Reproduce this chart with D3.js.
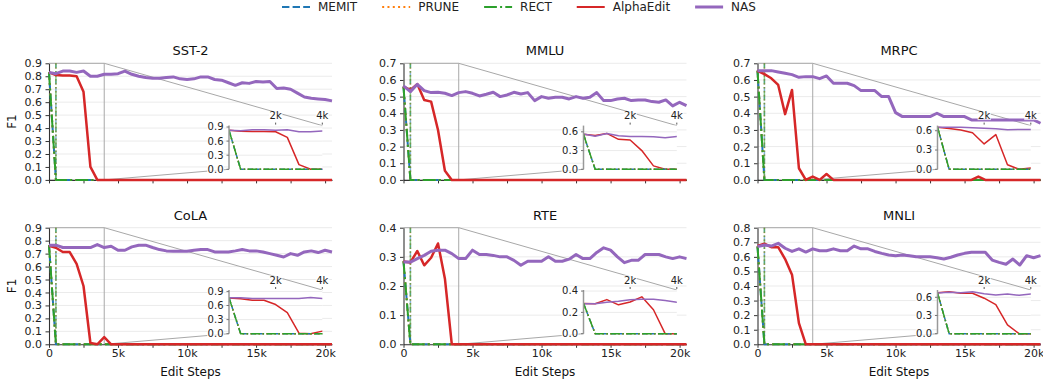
<!DOCTYPE html>
<html><head><meta charset="utf-8">
<script src="https://cdn.jsdelivr.net/npm/d3@7"></script>
<style>body{margin:0;background:#fff} svg{font-family:"DejaVu Sans",sans-serif}</style>
</head><body><svg id="c" width="1043" height="383"></svg>
<script>
// ---------------- DATA ----------------
const datasets = ["SST-2","MMLU","MRPC","CoLA","RTE","MNLI"];
const methods = ["MEMIT","PRUNE","RECT","AlphaEdit","NAS"];
const steps = [0,500,1000,1500,2000,2500,3000,3500,4000,4500,5000,5500,6000,6500,7000,7500,8000,8500,9000,9500,10000,10500,11000,11500,12000,12500,13000,13500,14000,14500,15000,15500,16000,16500,17000,17500,18000,18500,19000,19500,20000,20500];
const xTicks = [0,5000,10000,15000,20000];
const xMinorTicks = [2500,7500,12500,17500];
const xTickLabels = ["0","5k","10k","15k","20k"];
const insetXTicks = [2000,4000];
const insetXTickLabels = ["2k","4k"];
const yMax = [0.9,0.7,0.7,0.9,0.4,0.8];
const insetYMax = [0.93,0.7,0.68,0.93,0.41,0.72];
const insetYTicks = [[0,0.3,0.6,0.9],[0,0.3,0.6],[0,0.3,0.6],[0,0.3,0.6,0.9],[0,0.2,0.4],[0,0.3,0.6]];

// MEMIT / PRUNE / RECT collapse: vertices at steps 0, 500, 20500
const baseSteps = [0,500,20500];
const collapseStep = 500;
const memitVals = [[0.83,0,0],[0.56,0,0],[0.656,0,0],[0.765,0,0],[0.285,0,0],[0.672,0,0]];
const pruneVals = [[0.83,0,0],[0.56,0,0],[0.656,0,0],[0.765,0,0],[0.285,0,0],[0.672,0,0]];
const rectVals  = [[0.83,0,0],[0.56,0,0],[0.656,0,0],[0.765,0,0],[0.285,0,0],[0.672,0,0]];

const alphaSST2 = [0.83,0.81,0.805,0.805,0.80,0.68,0.10,0,0,0,0,0,0,0,0,0,0,0,0,0,0,0,0,0,0,0,0,0,0,0,0,0,0,0,0,0,0,0,0,0,0,0];
const alphaMMLU = [0.56,0.54,0.575,0.48,0.47,0.30,0.055,0,0,0,0,0,0,0,0,0,0,0,0,0,0,0,0,0,0,0,0,0,0,0,0,0,0,0,0,0,0,0,0,0,0,0];
const alphaMRPC = [0.655,0.635,0.61,0.57,0.395,0.54,0.07,0,0.02,0,0.035,0,0,0,0,0,0,0,0,0,0,0,0,0,0,0,0,0,0,0,0,0,0.02,0,0,0,0,0,0,0,0,0];
const alphaCoLA = [0.76,0.745,0.712,0.712,0.62,0.45,0.01,0,0.055,0,0,0,0,0,0,0,0,0,0,0,0,0,0,0,0,0,0,0,0,0,0,0,0,0,0,0,0,0,0,0,0,0];
const alphaRTE  = [0.284,0.281,0.32,0.271,0.297,0.346,0.225,0,0,0,0,0,0,0,0,0,0,0,0,0,0,0,0,0,0,0,0,0,0,0,0,0,0,0,0,0,0,0,0,0,0,0];
const alphaMNLI = [0.675,0.69,0.666,0.666,0.585,0.478,0.145,0,0,0,0,0,0,0,0,0,0,0,0,0,0,0,0,0,0,0,0,0,0,0,0,0,0,0,0,0,0,0,0,0,0,0];

const nasSST2 = [0.83,0.82,0.84,0.84,0.83,0.84,0.80,0.80,0.815,0.815,0.82,0.84,0.815,0.80,0.79,0.785,0.785,0.79,0.795,0.78,0.775,0.78,0.795,0.795,0.775,0.77,0.75,0.73,0.75,0.745,0.76,0.755,0.76,0.705,0.71,0.70,0.67,0.64,0.63,0.625,0.62,0.61];
const nasMMLU = [0.564,0.53,0.574,0.536,0.524,0.526,0.52,0.506,0.524,0.53,0.52,0.504,0.514,0.526,0.50,0.51,0.526,0.516,0.524,0.476,0.50,0.49,0.496,0.496,0.486,0.50,0.49,0.496,0.524,0.476,0.476,0.486,0.49,0.476,0.48,0.48,0.47,0.466,0.48,0.444,0.466,0.446];
const nasMRPC = [0.656,0.656,0.656,0.648,0.64,0.632,0.616,0.62,0.62,0.608,0.624,0.58,0.58,0.58,0.566,0.536,0.536,0.536,0.50,0.50,0.404,0.38,0.38,0.38,0.38,0.38,0.40,0.38,0.38,0.38,0.38,0.36,0.36,0.36,0.36,0.36,0.36,0.36,0.36,0.36,0.36,0.34];
const nasCoLA = [0.765,0.765,0.747,0.747,0.747,0.747,0.747,0.77,0.747,0.757,0.726,0.726,0.752,0.765,0.765,0.747,0.731,0.721,0.718,0.718,0.718,0.726,0.731,0.731,0.713,0.713,0.713,0.721,0.731,0.721,0.721,0.713,0.70,0.687,0.674,0.70,0.687,0.713,0.721,0.708,0.726,0.713];
const nasRTE  = [0.282,0.282,0.294,0.305,0.319,0.323,0.323,0.311,0.294,0.294,0.323,0.308,0.308,0.305,0.30,0.30,0.288,0.271,0.285,0.285,0.285,0.30,0.285,0.285,0.292,0.308,0.294,0.294,0.315,0.331,0.323,0.30,0.28,0.288,0.288,0.308,0.308,0.308,0.30,0.294,0.30,0.294];
const nasMNLI = [0.67,0.681,0.674,0.693,0.659,0.637,0.655,0.633,0.655,0.642,0.642,0.655,0.642,0.642,0.674,0.655,0.655,0.637,0.624,0.613,0.608,0.613,0.608,0.60,0.60,0.60,0.594,0.585,0.597,0.613,0.624,0.631,0.631,0.631,0.578,0.562,0.549,0.585,0.544,0.608,0.594,0.608];

const alphaVals = [alphaSST2,alphaMMLU,alphaMRPC,alphaCoLA,alphaRTE,alphaMNLI];
const nasVals = [nasSST2,nasMMLU,nasMRPC,nasCoLA,nasRTE,nasMNLI];

// ---------------- STYLE ----------------
const colors = {MEMIT:"#1f77b4",PRUNE:"#ff7f0e",RECT:"#2ca02c",AlphaEdit:"#d62728",NAS:"#9467bd"};
const widths = {MEMIT:2,PRUNE:2,RECT:2,AlphaEdit:2.5,NAS:3};
const dashBase = {MEMIT:[3.7,1.6],PRUNE:[1,1.65],RECT:[6.4,1.6,1,1.6],AlphaEdit:null,NAS:null};
const dash = (m,lw)=> dashBase[m] ? dashBase[m].map(v=>(v*lw).toFixed(2)).join(",") : null;

const svg = d3.select("#c");
const colX = [49,403.5,757.5], rowY = [63.3,227.7];
const plotW = 283, plotH = 116.6;
const inset = {x:180, y:62.3, w:93.3, h:43.7};
const fmtY = d3.format(".1f");

function seriesFor(m,i){
  if(m==="MEMIT") return baseSteps.map((s,k)=>[s,memitVals[i][k]]);
  if(m==="PRUNE") return baseSteps.map((s,k)=>[s,pruneVals[i][k]]);
  if(m==="RECT") return baseSteps.map((s,k)=>[s,rectVals[i][k]]);
  if(m==="AlphaEdit") return steps.map((s,k)=>[s,alphaVals[i][k]]);
  return steps.map((s,k)=>[s,nasVals[i][k]]);
}

datasets.forEach((name,i)=>{
  const col=i%3, row=Math.floor(i/3);
  const g = svg.append("g").attr("transform",`translate(${colX[col]},${rowY[row]})`);
  const x = d3.scaleLinear().domain([0,20500]).range([0,plotW]);
  const y = d3.scaleLinear().domain([0,yMax[i]]).range([plotH,0]);
  const yTicks = d3.range(0,Math.round(yMax[i]*10)+1).map(k=>k/10);

  // grid
  g.append("g").selectAll("line").data(yTicks).join("line")
    .attr("x1",0).attr("x2",plotW).attr("y1",d=>y(d)).attr("y2",d=>y(d))
    .attr("stroke","#ebebeb").attr("stroke-width",1);

  // indicator rect + connectors
  const gi = g.append("g").attr("fill","none").attr("stroke","#a8a8a8").attr("stroke-width",1);
  gi.append("path").attr("d",`M${x(0)},${y(yMax[i])}H${x(4000)}V${y(0)}`);
  gi.append("line").attr("x1",x(4000)).attr("y1",y(yMax[i])).attr("x2",inset.x+inset.w).attr("y2",inset.y);
  gi.append("line").attr("x1",x(4000)).attr("y1",y(0)).attr("x2",inset.x).attr("y2",inset.y+inset.h);

  // vertical collapse markers
  ["MEMIT","PRUNE","RECT"].forEach(m=>{
    g.append("line").attr("x1",x(collapseStep)).attr("x2",x(collapseStep))
      .attr("y1",y(0)).attr("y2",y(yMax[i]))
      .attr("stroke",colors[m]).attr("stroke-width",1.5).attr("opacity",0.55)
      .attr("stroke-dasharray",dash(m,1.5));
  });

  // axes
  const ax = d3.axisLeft(y).tickValues(yTicks).tickFormat(fmtY).tickSize(3.5).tickPadding(3.5).tickSizeOuter(0);
  const ga = g.append("g").call(ax);
  const bx = d3.axisBottom(x).tickValues(xTicks).tickSize(3.5).tickPadding(1.8).tickSizeOuter(0)
    .tickFormat((d,k)=> row===1 ? xTickLabels[k] : "");
  const gb = g.append("g").attr("transform",`translate(0,${plotH})`).call(bx);
  const bm = d3.axisBottom(x).tickValues(xMinorTicks).tickSize(3.5).tickFormat("").tickSizeOuter(0);
  const gm = g.append("g").attr("transform",`translate(0,${plotH})`).call(bm);
  gm.select(".domain").remove();
  [ga,gb,gm].forEach(a=>{
    a.selectAll("path.domain").attr("stroke","#333").attr("stroke-width",1.1);
    a.selectAll(".tick line").attr("stroke","#333").attr("stroke-width",1);
    a.selectAll(".tick text").attr("font-size",11).attr("fill","#222").attr("font-family","DejaVu Sans");
  });

  // lines
  methods.forEach(m=>{
    const line = d3.line().x(d=>x(d[0])).y(d=>y(d[1]));
    g.append("path").datum(seriesFor(m,i)).attr("d",line)
      .attr("fill","none").attr("stroke",colors[m]).attr("stroke-width",widths[m])
      .attr("stroke-dasharray",dash(m,widths[m])).attr("stroke-linejoin","round");
  });

  // title
  g.append("text").attr("x",plotW/2).attr("y",-8).attr("text-anchor","middle")
    .attr("font-size",13).attr("fill","#111").text(name);
  if(col===0){
    g.append("text").attr("transform",`translate(-33,${plotH/2}) rotate(-90)`)
      .attr("text-anchor","middle").attr("font-size",12).attr("fill","#111").text("F1");
  }
  if(row===1){
    g.append("text").attr("x",plotW/2).attr("y",plotH+32).attr("text-anchor","middle")
      .attr("font-size",12).attr("fill","#111").text("Edit Steps");
  }

  // ---------- inset ----------
  const ig = g.append("g").attr("transform",`translate(${inset.x},${inset.y})`);
  const xi = d3.scaleLinear().domain([0,4000]).range([0,inset.w]);
  const yi = d3.scaleLinear().domain([0,insetYMax[i]]).range([inset.h,0]);
  ig.append("rect").attr("width",inset.w).attr("height",inset.h).attr("fill","#fff");
  ig.append("g").selectAll("line").data(insetYTicks[i].slice(1)).join("line")
    .attr("x1",0).attr("x2",inset.w).attr("y1",d=>yi(d)).attr("y2",d=>yi(d))
    .attr("stroke","#ebebeb").attr("stroke-width",1);
  const cid = "clip"+i;
  ig.append("clipPath").attr("id",cid).append("rect").attr("x",0).attr("y",-6).attr("width",inset.w).attr("height",inset.h+12);
  const il = ig.append("g").attr("clip-path",`url(#${cid})`);
  ["AlphaEdit","NAS","MEMIT","PRUNE","RECT"].forEach(m=>{
    const line = d3.line().x(d=>xi(d[0])).y(d=>yi(d[1]));
    il.append("path").datum(seriesFor(m,i)).attr("d",line)
      .attr("fill","none").attr("stroke",colors[m]).attr("stroke-width",1.5)
      .attr("stroke-dasharray",dash(m,1.5)).attr("stroke-linejoin","round");
  });
  // inset left spine
  ig.append("line").attr("x1",0).attr("x2",0).attr("y1",0).attr("y2",inset.h)
    .attr("stroke","#999").attr("stroke-width",1.5);
  // inset y ticks
  const iyt = ig.append("g").selectAll("g").data(insetYTicks[i]).join("g")
    .attr("transform",d=>`translate(0,${yi(d)})`);
  iyt.append("line").attr("x1",-2.5).attr("x2",0).attr("stroke","#777");
  iyt.each(function(d){
    const t = d3.select(this).append("text").attr("x",-5.5).attr("dy","0.34em")
      .attr("text-anchor","end").attr("font-size",10).attr("fill","#222").text(fmtY(d));
    const b = t.node().getBBox();
    d3.select(this).insert("rect","text").attr("x",b.x-0.5).attr("y",b.y+1).attr("width",b.width+1).attr("height",b.height-2)
      .attr("fill","#fff").attr("opacity",0.8);
  });
  // inset top ticks
  const ixt = ig.append("g").selectAll("g").data(insetXTicks).join("g")
    .attr("transform",d=>`translate(${xi(d)},0)`);
  ixt.append("line").attr("y1",-3).attr("y2",-1).attr("stroke","#555").attr("stroke-width",1);
  ixt.each(function(d,k){
    const t = d3.select(this).append("text").attr("y",-6.5).attr("text-anchor","middle")
      .attr("font-size",10).attr("fill","#222").text(insetXTickLabels[k]);
    const b = t.node().getBBox();
    d3.select(this).insert("rect","text").attr("x",b.x-0.5).attr("y",b.y+1).attr("width",b.width+1).attr("height",b.height-2)
      .attr("fill","#fff").attr("opacity",0.75);
  });
});

// ---------------- LEGEND ----------------
const lg = svg.append("g").attr("transform","translate(0,7)");
let lx = 282;
methods.forEach(m=>{
  const len = 28;
  lg.append("line").attr("x1",lx).attr("x2",lx+len).attr("y1",0).attr("y2",0)
    .attr("stroke",colors[m]).attr("stroke-width",widths[m]===3?3:2)
    .attr("stroke-dasharray",dash(m,2));
  const t = lg.append("text").attr("x",lx+len+8).attr("dy","0.36em").attr("font-size",12).attr("fill","#222").text(m);
  lx += len + 8 + t.node().getComputedTextLength() + 25;
});
</script></body></html>
